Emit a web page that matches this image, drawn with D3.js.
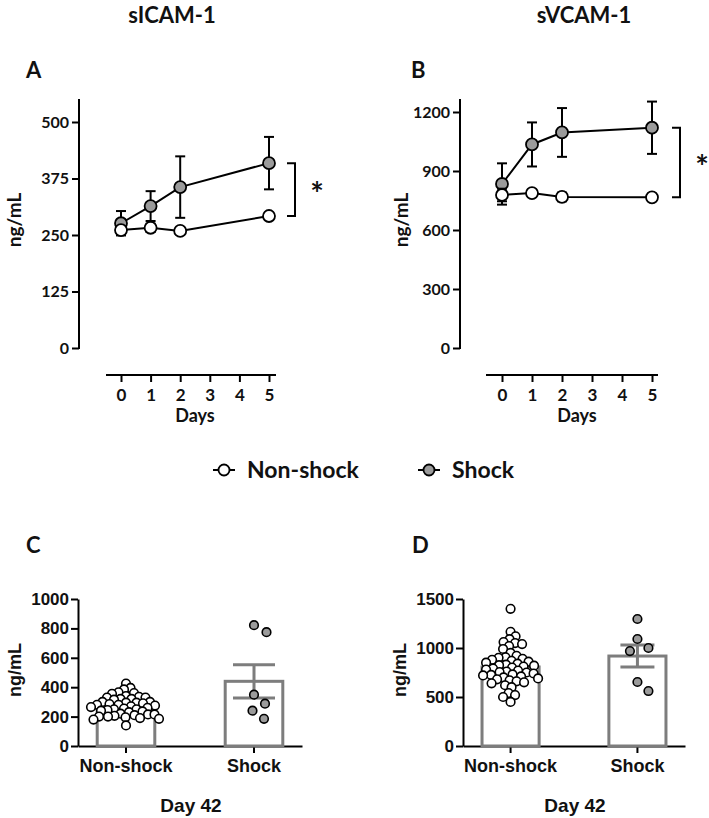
<!DOCTYPE html>
<html><head><meta charset="utf-8">
<script src="https://cdn.jsdelivr.net/npm/d3@7"></script>
<style>
body{margin:0;background:#fff;}
svg{display:block;}
.cal{font-family:Lato,"Open Sans",sans-serif;font-weight:bold;}
.ari{font-family:"Liberation Sans",Arial,sans-serif;font-weight:bold;}
</style>
</head><body>
<svg id="c" width="709" height="818"></svg>
<script>
// ---------- DATA ----------
const days = [0, 1, 2, 5];
const dayTicks = [0, 1, 2, 3, 4, 5];
// Panel A: sICAM-1 (ng/mL)
const icamNonShockMean = [261, 266, 259, 292];
const icamNonShockSem  = [8, 9, 6, 4];
const icamShockMean    = [276, 314, 356, 409];
const icamShockSem     = [27, 33, 68, 58];
const icamTicks = [0, 125, 250, 375, 500];
// Panel B: sVCAM-1 (ng/mL)
const vcamNonShockMean = [778, 788, 768, 766];
const vcamNonShockSem  = [32, 10, 22, 18];
const vcamShockMean    = [834, 1035, 1096, 1120];
const vcamShockSem     = [105, 112, 124, 133];
const vcamTicks = [0, 300, 600, 900, 1200];
// Panel C: sICAM-1 day 42
const groups = ["Non-shock", "Shock"];
const cBarMean = [274, 440];
const cBarSem  = [12, 113];
const cNonShockPts = [425, 395, 385, 365, 360, 355, 340, 335, 330, 330, 320, 320, 315, 300, 300, 295, 295, 290, 285, 280, 280, 275, 270, 265, 260, 255, 250, 250, 245, 240, 235, 230, 220, 215, 215, 210, 205, 200, 200, 195, 190, 185, 180, 140];
const cShockPts = [822, 774, 349, 288, 240, 185];
const cTicks = [0, 200, 400, 600, 800, 1000];
// Panel D: sVCAM-1 day 42
const dBarMean = [806, 918];
const dBarSem  = [28, 112];
const dNonShockPts = [1400, 1165, 1120, 1090, 1060, 1050, 1040, 1020, 990, 950, 920, 905, 900, 890, 880, 870, 860, 850, 840, 830, 825, 820, 810, 800, 790, 780, 770, 760, 755, 750, 740, 730, 725, 720, 710, 700, 690, 680, 670, 660, 650, 640, 620, 600, 540, 520, 500, 450];
const dShockPts = [1296, 1092, 1000, 969, 653, 561];
const dTicks = [0, 500, 1000, 1500];

// ---------- DRAW ----------
const svg = d3.select("#c");
const GRAY_FILL = "#9b9b9b";
const BAR_GRAY = "#7d7d7d";

function text(x, y, s, cls, size, anchor, rot) {
  const t = svg.append("text").attr("class", cls).attr("font-size", size)
    .attr("text-anchor", anchor || "middle").attr("fill", "#111").text(s);
  if (rot) t.attr("transform", `translate(${x},${y}) rotate(${rot})`);
  else t.attr("x", x).attr("y", y);
  return t;
}

// titles & panel letters
text(172, 23, "sICAM-1", "cal", 22);
text(584, 23, "sVCAM-1", "cal", 22);
text(26, 78, "A", "cal", 22, "start");
text(411, 78, "B", "cal", 22, "start");
text(26, 553, "C", "cal", 22, "start");
text(412, 553, "D", "cal", 22, "start");

function linePanel(cfg) {
  const y = d3.scaleLinear().domain([0, cfg.yMax]).range([348, cfg.yMaxPx]);
  const x = d3.scaleLinear().domain([0, 5]).range(cfg.xRange);
  const ga = svg.append("g").attr("transform", `translate(${cfg.ax},0)`)
    .call(d3.axisLeft(y).tickValues(cfg.ticks).tickSize(7).tickPadding(3).tickFormat(d3.format("d")));
  ga.select(".domain").remove();
  ga.selectAll(".tick line").attr("stroke", "#000").attr("stroke-width", 2);
  ga.selectAll(".tick text").attr("class", "cal").attr("font-size", 16).attr("fill", "#111");
  svg.append("line").attr("x1", cfg.ax).attr("x2", cfg.ax).attr("y1", 349).attr("y2", 99)
    .attr("stroke", "#000").attr("stroke-width", 2);
  const gx = svg.append("g").attr("transform", `translate(0,375)`)
    .call(d3.axisBottom(x).tickValues(dayTicks).tickSize(7).tickPadding(7).tickFormat(d3.format("d")));
  gx.select(".domain").remove();
  gx.selectAll(".tick line").attr("stroke", "#000").attr("stroke-width", 2);
  gx.selectAll(".tick text").attr("class", "cal").attr("font-size", 17).attr("fill", "#111");
  svg.append("line").attr("x1", cfg.xAxisExt[0]).attr("x2", cfg.xAxisExt[1]).attr("y1", 375).attr("y2", 375)
    .attr("stroke", "#000").attr("stroke-width", 2);
  text((x(2) + x(3)) / 2, 422, "Days", "cal", 18);
  text(cfg.labelX, 220, "ng/mL", "cal", 19, "middle", -90);

  function series(mean, sem, fill) {
    const g = svg.append("g");
    const pts = days.map((d, i) => ({d, m: mean[i], s: sem[i]}));
    pts.forEach(p => {
      const cx = x(p.d);
      g.append("line").attr("x1", cx).attr("x2", cx).attr("y1", y(p.m - p.s)).attr("y2", y(p.m + p.s))
        .attr("stroke", "#000").attr("stroke-width", 2);
      [p.m - p.s, p.m + p.s].forEach(v => g.append("line").attr("x1", cx - 5).attr("x2", cx + 5)
        .attr("y1", y(v)).attr("y2", y(v)).attr("stroke", "#000").attr("stroke-width", 2));
    });
    g.append("path").datum(pts).attr("fill", "none").attr("stroke", "#000").attr("stroke-width", 2)
      .attr("d", d3.line().x(p => x(p.d)).y(p => y(p.m)));
    g.selectAll("circle").data(pts).join("circle").attr("cx", p => x(p.d)).attr("cy", p => y(p.m))
      .attr("r", 6).attr("fill", fill).attr("stroke", "#000").attr("stroke-width", 1.8);
  }
  series(cfg.shockM, cfg.shockS, GRAY_FILL);
  series(cfg.nonM, cfg.nonS, "#fff");
  const bx = cfg.bracketX, y1 = y(cfg.shockM[3]), y2 = y(cfg.nonM[3]);
  svg.append("path").attr("d", `M${bx - 8},${y1}H${bx}V${y2}H${bx - 8}`)
    .attr("fill", "none").attr("stroke", "#000").attr("stroke-width", 2);
  text(bx + 22, (y1 + y2) / 2 + 16, "*", "cal", 32);
}

linePanel({yMax: 500, yMaxPx: 122, ticks: icamTicks, ax: 79, xRange: [121, 269], xAxisExt: [106, 276],
  labelX: 21, shockM: icamShockMean, shockS: icamShockSem, nonM: icamNonShockMean, nonS: icamNonShockSem, bracketX: 295});
linePanel({yMax: 1200, yMaxPx: 112, ticks: vcamTicks, ax: 460, xRange: [502, 652], xAxisExt: [486, 658],
  labelX: 408, shockM: vcamShockMean, shockS: vcamShockSem, nonM: vcamNonShockMean, nonS: vcamNonShockSem, bracketX: 680});

// legend
function legendItem(x, label, fill) {
  svg.append("line").attr("x1", x).attr("x2", x + 22).attr("y1", 470).attr("y2", 470)
    .attr("stroke", "#000").attr("stroke-width", 2);
  svg.append("circle").attr("cx", x + 11).attr("cy", 470).attr("r", 5.5).attr("fill", fill)
    .attr("stroke", "#000").attr("stroke-width", 1.8);
  text(x + 34, 478, label, "cal", 23, "start");
}
legendItem(213, "Non-shock", "#fff");
legendItem(418, "Shock", GRAY_FILL);

// deterministic beeswarm layout
function swarm(values, y, cx, d) {
  const pts = values.map(v => ({v, y: y(v)})).sort((a, b) => a.y - b.y);
  const placed = [];
  pts.forEach(p => {
    let k = 0;
    while (true) {
      const off = k === 0 ? 0 : (k % 2 ? 1 : -1) * Math.ceil(k / 2) * 0.5;
      const xx = cx + off;
      if (placed.every(q => (q.x - xx) ** 2 + (q.y - p.y) ** 2 >= d * d)) { p.x = xx; break; }
      k++;
    }
    placed.push(p);
  });
  return placed;
}

function barPanel(cfg) {
  const y = d3.scaleLinear().domain([0, cfg.yMax]).range([746, 599]);
  const x = d3.scaleBand().domain(groups).range([cfg.ax, cfg.xEnd]).paddingInner(0.55).paddingOuter(0.15);
  const ga = svg.append("g").attr("transform", `translate(${cfg.ax},0)`)
    .call(d3.axisLeft(y).tickValues(cfg.ticks).tickSize(7).tickSizeOuter(0).tickPadding(2).tickFormat(d3.format("d")));
  ga.select(".domain").attr("stroke", "#000").attr("stroke-width", 2);
  ga.selectAll(".tick line").attr("stroke", "#000").attr("stroke-width", 2);
  ga.selectAll(".tick text").attr("class", "ari").attr("font-size", 17).attr("fill", "#111");
  const gx = svg.append("g").attr("transform", `translate(0,746)`)
    .call(d3.axisBottom(x).tickSize(7).tickSizeOuter(0).tickPadding(6));
  gx.select(".domain").attr("stroke", "#000").attr("stroke-width", 2);
  gx.selectAll(".tick line").attr("stroke", "#000").attr("stroke-width", 2);
  gx.selectAll(".tick text").attr("class", "ari").attr("font-size", 18).attr("fill", "#111");
  text(cfg.labelX, 670, "ng/mL", "ari", 18, "middle", -90);
  text(cfg.dayX, 812, "Day 42", "ari", 19);

  groups.forEach((gname, i) => {
    const bx = x(gname), bw = x.bandwidth(), cx = bx + bw / 2;
    svg.append("rect").attr("x", bx).attr("y", y(cfg.mean[i])).attr("width", bw)
      .attr("height", 746 - y(cfg.mean[i])).attr("fill", "#fff").attr("stroke", BAR_GRAY).attr("stroke-width", 3);
    const lo = y(cfg.mean[i] - cfg.sem[i]), hi = y(cfg.mean[i] + cfg.sem[i]);
    svg.append("line").attr("x1", cx).attr("x2", cx).attr("y1", lo).attr("y2", hi)
      .attr("stroke", BAR_GRAY).attr("stroke-width", 3);
    [lo, hi].forEach(v => svg.append("line").attr("x1", cx - cfg.cap / 2).attr("x2", cx + cfg.cap / 2)
      .attr("y1", v).attr("y2", v).attr("stroke", BAR_GRAY).attr("stroke-width", 3));
    const vals = i === 0 ? cfg.non : cfg.shock;
    const pts = swarm(vals, y, cx, i === 0 ? cfg.dNon : 14);
    svg.append("g").selectAll("circle").data(pts).join("circle")
      .attr("cx", p => p.x).attr("cy", p => p.y).attr("r", 4.3)
      .attr("fill", i === 0 ? "#fff" : GRAY_FILL).attr("stroke", "#000").attr("stroke-width", 1.6);
  });
}

barPanel({yMax: 1000, ticks: cTicks, ax: 78, xEnd: 302, mean: cBarMean, sem: cBarSem, cap: 42, dNon: 6.2,
  non: cNonShockPts, shock: cShockPts, labelX: 21, dayX: 191});
barPanel({yMax: 1500, ticks: dTicks, ax: 463, xEnd: 685, mean: dBarMean, sem: dBarSem, cap: 34, dNon: 6.6,
  non: dNonShockPts, shock: dShockPts, labelX: 406, dayX: 575});
</script>
</body></html>
